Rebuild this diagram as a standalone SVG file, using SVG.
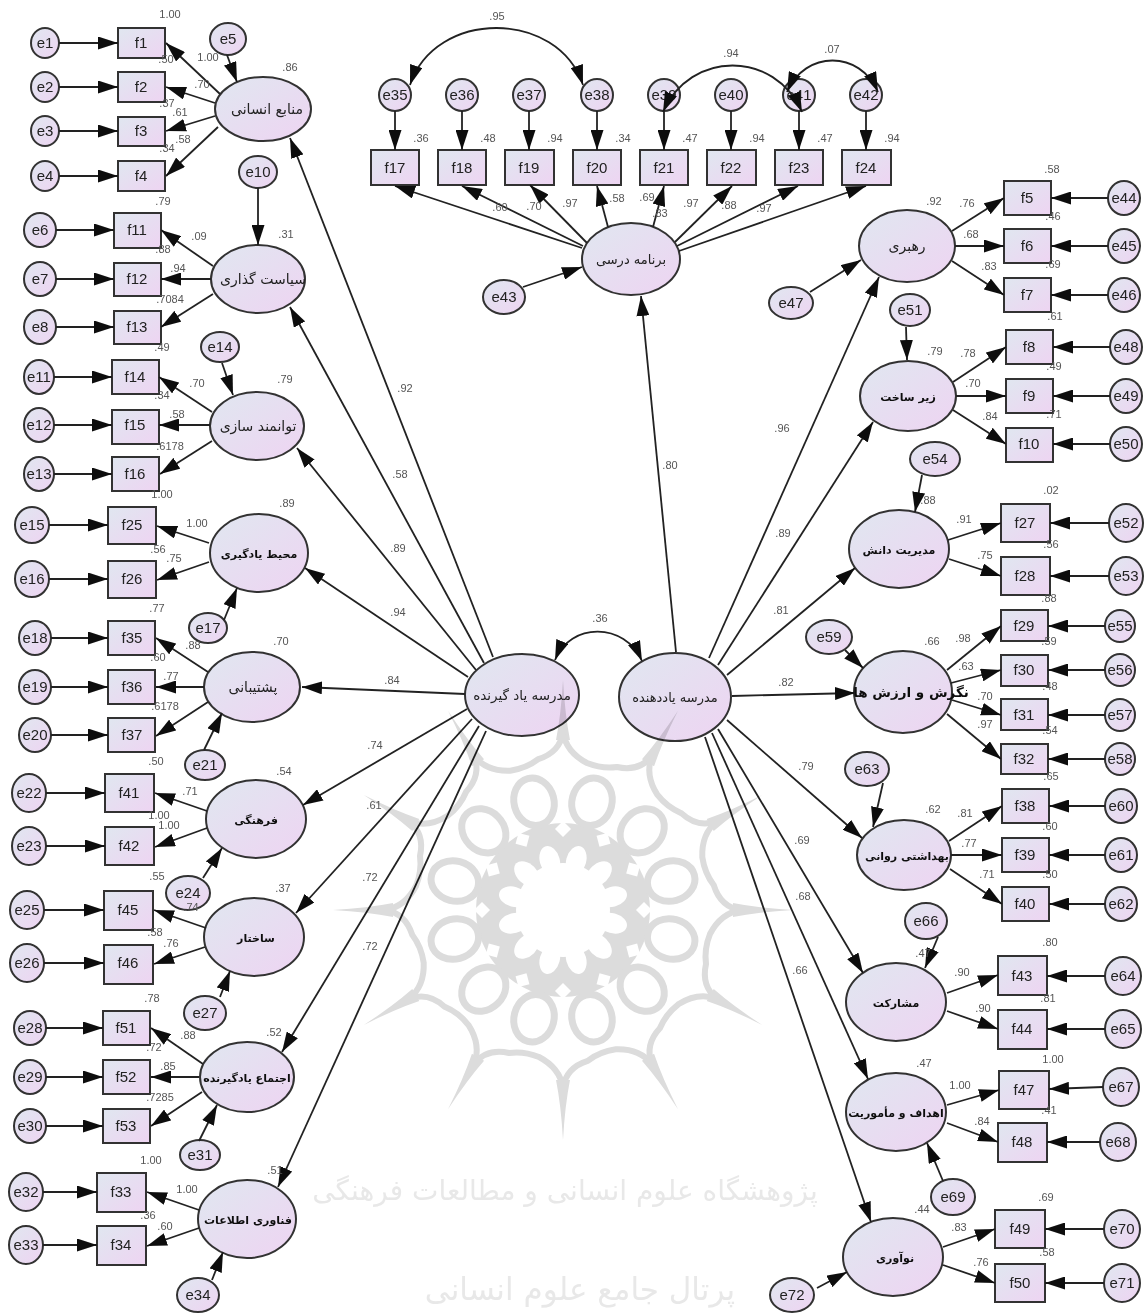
<svg xmlns="http://www.w3.org/2000/svg" width="1148" height="1316" viewBox="0 0 1148 1316">
<style>
.n{fill:url(#g);stroke:#333;stroke-width:2}
.t{font:15px "Liberation Sans",sans-serif;fill:#222;text-anchor:middle}
.p{font:12px "DejaVu Sans",sans-serif;fill:#222;text-anchor:middle}
.b{font-size:11px;font-weight:bold;fill:#111}
.m{font-size:14px}
.l{font:11px "Liberation Sans",sans-serif;fill:#555;text-anchor:middle}
#connectors path{fill:none;stroke:#222;stroke-width:1.8;marker-end:url(#a)}
#connectors path.d{marker-start:url(#a)}
.w{fill:none;stroke:#dcdcdc;stroke-width:6}
.wt{font-family:"DejaVu Sans",sans-serif;fill:#e8e8e8;text-anchor:middle}
#watermark{mix-blend-mode:multiply}
</style>
<defs>
<filter id="s" x="0" y="0" width="100%" height="100%"><feGaussianBlur stdDeviation="0.5"/></filter>
<linearGradient id="g" x1="0" y1="0" x2="1" y2="1"><stop offset="0" stop-color="#e0e7f0"/><stop offset="1" stop-color="#eed4f2"/></linearGradient>
<marker id="a" viewBox="0 0 20 13" refX="20" refY="6.5" markerUnits="userSpaceOnUse" markerWidth="20" markerHeight="13" orient="auto-start-reverse"><path d="M0,0L20,6.5L0,13z" fill="#111"/></marker>
<g id="u">
<path class="w" d="M0,-178Q3,-158 24,-147Q39,-141 54,-143Q76,-138 89,-154"/>
<path d="M0,-230Q-2,-195 -7,-170L7,-170Q2,-195 0,-230z" fill="#dcdcdc"/>
<path d="M-8,-81L0,-89L8,-81L0,-73z" fill="#fff"/>
<ellipse transform="rotate(15)" cx="0" cy="-112" rx="20" ry="24" fill="#fff" stroke="#dcdcdc" stroke-width="7"/>
<ellipse transform="rotate(15)" cx="0" cy="-51" rx="10" ry="15" fill="#fff"/>
</g>
</defs>
<g filter="url(#s)">
<rect width="1148" height="1316" fill="#fff"/>
<g id="nodes">
<g id="e1"><ellipse class="n" cx="45" cy="43" rx="14" ry="15"/><text class="t" x="45" y="48">e1</text></g>
<g id="e2"><ellipse class="n" cx="45" cy="87" rx="14" ry="15"/><text class="t" x="45" y="92">e2</text></g>
<g id="e3"><ellipse class="n" cx="45" cy="131" rx="14" ry="15"/><text class="t" x="45" y="136">e3</text></g>
<g id="e4"><ellipse class="n" cx="45" cy="176" rx="14" ry="15"/><text class="t" x="45" y="181">e4</text></g>
<g id="e5"><ellipse class="n" cx="228" cy="39" rx="18" ry="16"/><text class="t" x="228" y="44">e5</text></g>
<g id="e6"><ellipse class="n" cx="40" cy="230" rx="16" ry="17"/><text class="t" x="40" y="235">e6</text></g>
<g id="e7"><ellipse class="n" cx="40" cy="279" rx="16" ry="17"/><text class="t" x="40" y="284">e7</text></g>
<g id="e8"><ellipse class="n" cx="40" cy="327" rx="16" ry="17"/><text class="t" x="40" y="332">e8</text></g>
<g id="e10"><ellipse class="n" cx="258" cy="172" rx="19" ry="16"/><text class="t" x="258" y="177">e10</text></g>
<g id="e14"><ellipse class="n" cx="220" cy="347" rx="19" ry="15"/><text class="t" x="220" y="352">e14</text></g>
<g id="e11"><ellipse class="n" cx="39" cy="377" rx="15" ry="17"/><text class="t" x="39" y="382">e11</text></g>
<g id="e12"><ellipse class="n" cx="39" cy="425" rx="15" ry="17"/><text class="t" x="39" y="430">e12</text></g>
<g id="e13"><ellipse class="n" cx="39" cy="474" rx="15" ry="17"/><text class="t" x="39" y="479">e13</text></g>
<g id="e15"><ellipse class="n" cx="32" cy="525" rx="17" ry="18"/><text class="t" x="32" y="530">e15</text></g>
<g id="e16"><ellipse class="n" cx="32" cy="579" rx="17" ry="18"/><text class="t" x="32" y="584">e16</text></g>
<g id="e17"><ellipse class="n" cx="208" cy="628" rx="19" ry="15"/><text class="t" x="208" y="633">e17</text></g>
<g id="e18"><ellipse class="n" cx="35" cy="638" rx="16" ry="17"/><text class="t" x="35" y="643">e18</text></g>
<g id="e19"><ellipse class="n" cx="35" cy="687" rx="16" ry="17"/><text class="t" x="35" y="692">e19</text></g>
<g id="e20"><ellipse class="n" cx="35" cy="735" rx="16" ry="17"/><text class="t" x="35" y="740">e20</text></g>
<g id="e21"><ellipse class="n" cx="205" cy="765" rx="20" ry="15"/><text class="t" x="205" y="770">e21</text></g>
<g id="e22"><ellipse class="n" cx="29" cy="793" rx="17" ry="19"/><text class="t" x="29" y="798">e22</text></g>
<g id="e23"><ellipse class="n" cx="29" cy="846" rx="17" ry="19"/><text class="t" x="29" y="851">e23</text></g>
<g id="e24"><ellipse class="n" cx="188" cy="893" rx="22" ry="17"/><text class="t" x="188" y="898">e24</text></g>
<g id="e25"><ellipse class="n" cx="27" cy="910" rx="17" ry="19"/><text class="t" x="27" y="915">e25</text></g>
<g id="e26"><ellipse class="n" cx="27" cy="963" rx="17" ry="19"/><text class="t" x="27" y="968">e26</text></g>
<g id="e27"><ellipse class="n" cx="205" cy="1013" rx="21" ry="17"/><text class="t" x="205" y="1018">e27</text></g>
<g id="e28"><ellipse class="n" cx="30" cy="1028" rx="16" ry="17"/><text class="t" x="30" y="1033">e28</text></g>
<g id="e29"><ellipse class="n" cx="30" cy="1077" rx="16" ry="17"/><text class="t" x="30" y="1082">e29</text></g>
<g id="e30"><ellipse class="n" cx="30" cy="1126" rx="16" ry="17"/><text class="t" x="30" y="1131">e30</text></g>
<g id="e31"><ellipse class="n" cx="200" cy="1155" rx="20" ry="15"/><text class="t" x="200" y="1160">e31</text></g>
<g id="e32"><ellipse class="n" cx="26" cy="1192" rx="17" ry="19"/><text class="t" x="26" y="1197">e32</text></g>
<g id="e33"><ellipse class="n" cx="26" cy="1245" rx="17" ry="19"/><text class="t" x="26" y="1250">e33</text></g>
<g id="e34"><ellipse class="n" cx="198" cy="1295" rx="21" ry="17"/><text class="t" x="198" y="1300">e34</text></g>
<g id="e35"><circle class="n" cx="395" cy="95" r="16"/><text class="t" x="395" y="100">e35</text></g>
<g id="e36"><circle class="n" cx="462" cy="95" r="16"/><text class="t" x="462" y="100">e36</text></g>
<g id="e37"><circle class="n" cx="529" cy="95" r="16"/><text class="t" x="529" y="100">e37</text></g>
<g id="e38"><circle class="n" cx="597" cy="95" r="16"/><text class="t" x="597" y="100">e38</text></g>
<g id="e39"><circle class="n" cx="664" cy="95" r="16"/><text class="t" x="664" y="100">e39</text></g>
<g id="e40"><circle class="n" cx="731" cy="95" r="16"/><text class="t" x="731" y="100">e40</text></g>
<g id="e41"><circle class="n" cx="799" cy="95" r="16"/><text class="t" x="799" y="100">e41</text></g>
<g id="e42"><circle class="n" cx="866" cy="95" r="16"/><text class="t" x="866" y="100">e42</text></g>
<g id="e43"><ellipse class="n" cx="504" cy="297" rx="21" ry="17"/><text class="t" x="504" y="302">e43</text></g>
<g id="e47"><ellipse class="n" cx="791" cy="303" rx="22" ry="16"/><text class="t" x="791" y="308">e47</text></g>
<g id="e44"><ellipse class="n" cx="1124" cy="198" rx="16" ry="17"/><text class="t" x="1124" y="203">e44</text></g>
<g id="e45"><ellipse class="n" cx="1124" cy="246" rx="16" ry="17"/><text class="t" x="1124" y="251">e45</text></g>
<g id="e46"><ellipse class="n" cx="1124" cy="295" rx="16" ry="17"/><text class="t" x="1124" y="300">e46</text></g>
<g id="e48"><ellipse class="n" cx="1126" cy="347" rx="16" ry="17"/><text class="t" x="1126" y="352">e48</text></g>
<g id="e49"><ellipse class="n" cx="1126" cy="396" rx="16" ry="17"/><text class="t" x="1126" y="401">e49</text></g>
<g id="e50"><ellipse class="n" cx="1126" cy="444" rx="16" ry="17"/><text class="t" x="1126" y="449">e50</text></g>
<g id="e51"><ellipse class="n" cx="910" cy="310" rx="20" ry="16"/><text class="t" x="910" y="315">e51</text></g>
<g id="e54"><ellipse class="n" cx="935" cy="459" rx="25" ry="17"/><text class="t" x="935" y="464">e54</text></g>
<g id="e52"><ellipse class="n" cx="1126" cy="523" rx="17" ry="19"/><text class="t" x="1126" y="528">e52</text></g>
<g id="e53"><ellipse class="n" cx="1126" cy="576" rx="17" ry="19"/><text class="t" x="1126" y="581">e53</text></g>
<g id="e59"><ellipse class="n" cx="829" cy="637" rx="23" ry="17"/><text class="t" x="829" y="642">e59</text></g>
<g id="e55"><ellipse class="n" cx="1120" cy="626" rx="15" ry="16"/><text class="t" x="1120" y="631">e55</text></g>
<g id="e56"><ellipse class="n" cx="1120" cy="670" rx="15" ry="16"/><text class="t" x="1120" y="675">e56</text></g>
<g id="e57"><ellipse class="n" cx="1120" cy="715" rx="15" ry="16"/><text class="t" x="1120" y="720">e57</text></g>
<g id="e58"><ellipse class="n" cx="1120" cy="759" rx="15" ry="16"/><text class="t" x="1120" y="764">e58</text></g>
<g id="e63"><ellipse class="n" cx="867" cy="769" rx="22" ry="17"/><text class="t" x="867" y="774">e63</text></g>
<g id="e60"><ellipse class="n" cx="1121" cy="806" rx="16" ry="17"/><text class="t" x="1121" y="811">e60</text></g>
<g id="e61"><ellipse class="n" cx="1121" cy="855" rx="16" ry="17"/><text class="t" x="1121" y="860">e61</text></g>
<g id="e62"><ellipse class="n" cx="1121" cy="904" rx="16" ry="17"/><text class="t" x="1121" y="909">e62</text></g>
<g id="e66"><ellipse class="n" cx="926" cy="921" rx="21" ry="18"/><text class="t" x="926" y="926">e66</text></g>
<g id="e64"><ellipse class="n" cx="1123" cy="976" rx="18" ry="19"/><text class="t" x="1123" y="981">e64</text></g>
<g id="e65"><ellipse class="n" cx="1123" cy="1029" rx="18" ry="19"/><text class="t" x="1123" y="1034">e65</text></g>
<g id="e67"><ellipse class="n" cx="1121" cy="1087" rx="18" ry="19"/><text class="t" x="1121" y="1092">e67</text></g>
<g id="e68"><ellipse class="n" cx="1118" cy="1142" rx="18" ry="19"/><text class="t" x="1118" y="1147">e68</text></g>
<g id="e69"><ellipse class="n" cx="953" cy="1197" rx="22" ry="18"/><text class="t" x="953" y="1202">e69</text></g>
<g id="e70"><ellipse class="n" cx="1122" cy="1229" rx="18" ry="19"/><text class="t" x="1122" y="1234">e70</text></g>
<g id="e71"><ellipse class="n" cx="1122" cy="1283" rx="18" ry="19"/><text class="t" x="1122" y="1288">e71</text></g>
<g id="e72"><ellipse class="n" cx="792" cy="1295" rx="22" ry="17"/><text class="t" x="792" y="1300">e72</text></g>

<g id="f1"><rect class="n" x="118" y="28" width="47" height="30"/><text class="t" x="141" y="48">f1</text></g>
<g id="f2"><rect class="n" x="118" y="72" width="47" height="30"/><text class="t" x="141" y="92">f2</text></g>
<g id="f3"><rect class="n" x="118" y="117" width="47" height="29"/><text class="t" x="141" y="136">f3</text></g>
<g id="f4"><rect class="n" x="118" y="161" width="47" height="30"/><text class="t" x="141" y="181">f4</text></g>
<g id="f11"><rect class="n" x="114" y="213" width="47" height="35"/><text class="t" x="137" y="235">f11</text></g>
<g id="f12"><rect class="n" x="114" y="263" width="47" height="33"/><text class="t" x="137" y="284">f12</text></g>
<g id="f13"><rect class="n" x="114" y="311" width="47" height="33"/><text class="t" x="137" y="332">f13</text></g>
<g id="f14"><rect class="n" x="112" y="360" width="47" height="34"/><text class="t" x="135" y="382">f14</text></g>
<g id="f15"><rect class="n" x="112" y="410" width="47" height="34"/><text class="t" x="135" y="430">f15</text></g>
<g id="f16"><rect class="n" x="112" y="457" width="47" height="34"/><text class="t" x="135" y="479">f16</text></g>
<g id="f25"><rect class="n" x="108" y="507" width="48" height="37"/><text class="t" x="132" y="530">f25</text></g>
<g id="f26"><rect class="n" x="108" y="561" width="48" height="37"/><text class="t" x="132" y="584">f26</text></g>
<g id="f35"><rect class="n" x="108" y="621" width="47" height="34"/><text class="t" x="132" y="643">f35</text></g>
<g id="f36"><rect class="n" x="108" y="670" width="47" height="34"/><text class="t" x="132" y="692">f36</text></g>
<g id="f37"><rect class="n" x="108" y="718" width="47" height="34"/><text class="t" x="132" y="740">f37</text></g>
<g id="f41"><rect class="n" x="105" y="774" width="49" height="38"/><text class="t" x="129" y="798">f41</text></g>
<g id="f42"><rect class="n" x="105" y="827" width="49" height="38"/><text class="t" x="129" y="851">f42</text></g>
<g id="f45"><rect class="n" x="104" y="891" width="49" height="39"/><text class="t" x="128" y="915">f45</text></g>
<g id="f46"><rect class="n" x="104" y="945" width="49" height="39"/><text class="t" x="128" y="968">f46</text></g>
<g id="f51"><rect class="n" x="103" y="1011" width="47" height="34"/><text class="t" x="126" y="1033">f51</text></g>
<g id="f52"><rect class="n" x="103" y="1060" width="47" height="34"/><text class="t" x="126" y="1082">f52</text></g>
<g id="f53"><rect class="n" x="103" y="1109" width="47" height="34"/><text class="t" x="126" y="1131">f53</text></g>
<g id="f33"><rect class="n" x="97" y="1173" width="49" height="39"/><text class="t" x="121" y="1197">f33</text></g>
<g id="f34"><rect class="n" x="97" y="1226" width="49" height="39"/><text class="t" x="121" y="1250">f34</text></g>
<g id="f17"><rect class="n" x="371" y="150" width="48" height="35"/><text class="t" x="395" y="173">f17</text></g>
<g id="f18"><rect class="n" x="438" y="150" width="48" height="35"/><text class="t" x="462" y="173">f18</text></g>
<g id="f19"><rect class="n" x="505" y="150" width="49" height="35"/><text class="t" x="529" y="173">f19</text></g>
<g id="f20"><rect class="n" x="573" y="150" width="48" height="35"/><text class="t" x="597" y="173">f20</text></g>
<g id="f21"><rect class="n" x="640" y="150" width="48" height="35"/><text class="t" x="664" y="173">f21</text></g>
<g id="f22"><rect class="n" x="707" y="150" width="49" height="35"/><text class="t" x="731" y="173">f22</text></g>
<g id="f23"><rect class="n" x="775" y="150" width="48" height="35"/><text class="t" x="799" y="173">f23</text></g>
<g id="f24"><rect class="n" x="842" y="150" width="49" height="35"/><text class="t" x="866" y="173">f24</text></g>
<g id="f5"><rect class="n" x="1004" y="181" width="47" height="34"/><text class="t" x="1027" y="203">f5</text></g>
<g id="f6"><rect class="n" x="1004" y="229" width="47" height="34"/><text class="t" x="1027" y="251">f6</text></g>
<g id="f7"><rect class="n" x="1004" y="278" width="47" height="34"/><text class="t" x="1027" y="300">f7</text></g>
<g id="f8"><rect class="n" x="1006" y="330" width="47" height="34"/><text class="t" x="1029" y="352">f8</text></g>
<g id="f9"><rect class="n" x="1006" y="379" width="47" height="34"/><text class="t" x="1029" y="401">f9</text></g>
<g id="f10"><rect class="n" x="1006" y="428" width="47" height="34"/><text class="t" x="1029" y="449">f10</text></g>
<g id="f27"><rect class="n" x="1001" y="504" width="49" height="38"/><text class="t" x="1025" y="528">f27</text></g>
<g id="f28"><rect class="n" x="1001" y="557" width="49" height="38"/><text class="t" x="1025" y="581">f28</text></g>
<g id="f29"><rect class="n" x="1001" y="610" width="47" height="31"/><text class="t" x="1024" y="631">f29</text></g>
<g id="f30"><rect class="n" x="1001" y="655" width="47" height="31"/><text class="t" x="1024" y="675">f30</text></g>
<g id="f31"><rect class="n" x="1001" y="699" width="47" height="31"/><text class="t" x="1024" y="720">f31</text></g>
<g id="f32"><rect class="n" x="1001" y="744" width="47" height="30"/><text class="t" x="1024" y="764">f32</text></g>
<g id="f38"><rect class="n" x="1002" y="789" width="47" height="34"/><text class="t" x="1025" y="811">f38</text></g>
<g id="f39"><rect class="n" x="1002" y="838" width="47" height="34"/><text class="t" x="1025" y="860">f39</text></g>
<g id="f40"><rect class="n" x="1002" y="887" width="47" height="34"/><text class="t" x="1025" y="909">f40</text></g>
<g id="f43"><rect class="n" x="998" y="956" width="49" height="39"/><text class="t" x="1022" y="981">f43</text></g>
<g id="f44"><rect class="n" x="998" y="1010" width="49" height="39"/><text class="t" x="1022" y="1034">f44</text></g>
<g id="f47"><rect class="n" x="999" y="1071" width="50" height="38"/><text class="t" x="1024" y="1095">f47</text></g>
<g id="f48"><rect class="n" x="998" y="1123" width="49" height="39"/><text class="t" x="1022" y="1147">f48</text></g>
<g id="f49"><rect class="n" x="995" y="1210" width="50" height="38"/><text class="t" x="1020" y="1234">f49</text></g>
<g id="f50"><rect class="n" x="995" y="1264" width="50" height="38"/><text class="t" x="1020" y="1288">f50</text></g>

<g id="L1"><ellipse class="n" cx="263" cy="109" rx="48" ry="32"/><text class="p m" x="267" y="114">منابع انسانی</text></g>
<g id="L2"><ellipse class="n" cx="258" cy="279" rx="47" ry="34"/><text class="p m" x="263" y="284">سیاست گذاری</text></g>
<g id="L3"><ellipse class="n" cx="257" cy="426" rx="47" ry="34"/><text class="p m" x="258" y="431">توانمند سازی</text></g>
<g id="L4"><ellipse class="n" cx="259" cy="553" rx="49" ry="39"/><text class="p b" x="259" y="558">محیط یادگیری</text></g>
<g id="L5"><ellipse class="n" cx="252" cy="687" rx="48" ry="35"/><text class="p m" x="253" y="692">پشتیبانی</text></g>
<g id="L6"><ellipse class="n" cx="256" cy="819" rx="50" ry="39"/><text class="p b" x="256" y="824">فرهنگی</text></g>
<g id="L7"><ellipse class="n" cx="254" cy="937" rx="50" ry="39"/><text class="p b" x="256" y="942">ساختار</text></g>
<g id="L8"><ellipse class="n" cx="247" cy="1077" rx="47" ry="35"/><text class="p b" x="247" y="1082">اجتماع یادگیرنده</text></g>
<g id="L9"><ellipse class="n" cx="247" cy="1219" rx="49" ry="39"/><text class="p b" x="248" y="1224">فناوری اطلاعات</text></g>
<g id="C1"><ellipse class="n" cx="522" cy="695" rx="57" ry="41"/><text class="p" x="522" y="700" font-weight="bold" style="font-size:13.5px">مدرسه یاد گیرنده</text></g>
<g id="C2"><ellipse class="n" cx="675" cy="697" rx="56" ry="44"/><text class="p" x="675" y="702" font-weight="bold" style="font-size:13px">مدرسه یاددهنده</text></g>
<g id="L10"><ellipse class="n" cx="631" cy="259" rx="49" ry="36"/><text class="p" x="631" y="264" style="font-size:13px">برنامه درسی</text></g>
<g id="R1"><ellipse class="n" cx="907" cy="246" rx="48" ry="36"/><text class="p m" x="907" y="251">رهبری</text></g>
<g id="R2"><ellipse class="n" cx="908" cy="396" rx="48" ry="35"/><text class="p b" x="908" y="401">زیر ساخت</text></g>
<g id="R3"><ellipse class="n" cx="899" cy="549" rx="50" ry="39"/><text class="p b" x="899" y="554">مدیریت دانش</text></g>
<g id="R4"><ellipse class="n" cx="903" cy="692" rx="49" ry="41"/><text class="p b" x="911" y="697" style="font-size:13.5px">نگرش و ارزش ها</text></g>
<g id="R5"><ellipse class="n" cx="904" cy="855" rx="47" ry="35"/><text class="p b" x="907" y="860">بهداشتی روانی</text></g>
<g id="R6"><ellipse class="n" cx="896" cy="1002" rx="50" ry="39"/><text class="p b" x="896" y="1007">مشارکت</text></g>
<g id="R7"><ellipse class="n" cx="896" cy="1112" rx="50" ry="39"/><text class="p b" x="896" y="1117">اهداف و مأموریت</text></g>
<g id="R8"><ellipse class="n" cx="893" cy="1257" rx="50" ry="39"/><text class="p b" x="895" y="1262">نوآوری</text></g>
</g>
<g id="connectors">
<path d="M59,43H118"/><path d="M59,87H118"/><path d="M59,131H118"/><path d="M59,176H118"/>
<path d="M56,230H114"/><path d="M56,279H114"/><path d="M56,327H114"/>
<path d="M54,377H112"/><path d="M54,425H112"/><path d="M54,474H112"/>
<path d="M49,525H108"/><path d="M49,579H108"/>
<path d="M51,638H108"/><path d="M51,687H108"/><path d="M51,735H108"/>
<path d="M46,793H105"/><path d="M46,846H105"/>
<path d="M44,910H104"/><path d="M44,963H104"/>
<path d="M46,1028H103"/><path d="M46,1077H103"/><path d="M46,1126H103"/>
<path d="M43,1192H97"/><path d="M43,1245H97"/>
<path d="M1108,198H1051"/><path d="M1108,246H1051"/><path d="M1108,295H1051"/>
<path d="M1110,347H1053"/><path d="M1110,396H1053"/><path d="M1110,444H1053"/>
<path d="M1109,523H1050"/><path d="M1109,576H1050"/>
<path d="M1105,626H1048"/><path d="M1105,670H1048"/><path d="M1105,715H1048"/><path d="M1105,759H1048"/>
<path d="M1105,806H1049"/><path d="M1105,855H1049"/><path d="M1105,904H1049"/>
<path d="M1105,976H1047"/><path d="M1105,1029H1047"/>
<path d="M1103,1087L1049,1089"/><path d="M1100,1142H1047"/>
<path d="M1104,1229H1045"/><path d="M1104,1283H1045"/>
<path d="M395,111V150"/><path d="M462,111V150"/><path d="M529,111V150"/><path d="M597,111V150"/><path d="M664,111V150"/><path d="M731,111V150"/><path d="M799,111V150"/><path d="M866,111V150"/>
<path d="M220,94L166,43"/><path d="M215,103L166,87"/><path d="M215,116L166,131"/><path d="M218,127L166,176"/><path d="M227,55L237,82"/>
<path d="M213,266L161,230"/><path d="M211,279H161"/><path d="M213,294L161,327"/><path d="M258,188V245"/>
<path d="M212,412L159,377"/><path d="M210,425H159"/><path d="M212,441L160,474"/><path d="M222,363L233,395"/>
<path d="M209,543L157,526"/><path d="M209,562L157,580"/><path d="M224,620L237,588"/>
<path d="M208,672L156,638"/><path d="M204,687H156"/><path d="M208,702L156,736"/><path d="M204,750L222,713"/>
<path d="M207,811L155,793"/><path d="M207,828L155,847"/><path d="M203,878L222,848"/>
<path d="M206,928L154,910"/><path d="M205,947L154,964"/><path d="M220,997L230,971"/>
<path d="M203,1064L151,1028"/><path d="M199,1077H151"/><path d="M202,1092L151,1126"/><path d="M199,1141L217,1105"/>
<path d="M199,1210L147,1192"/><path d="M199,1228L147,1246"/><path d="M212,1280L223,1252"/>
<path d="M493,657L290,138"/><path d="M484,663L290,307"/><path d="M476,670L297,448"/><path d="M468,677L305,568"/><path d="M465,694L302,687"/><path d="M467,709L303,805"/><path d="M472,719L296,913"/><path d="M479,726L282,1052"/><path d="M486,731L278,1187"/>
<path d="M676,652L641,296"/><path d="M709,658L879,277"/><path d="M718,665L873,422"/><path d="M727,675L855,568"/><path d="M732,696L855,693"/><path d="M727,720L862,838"/><path d="M718,729L863,973"/><path d="M712,733L868,1079"/><path d="M705,737L871,1222"/>
<path d="M582,248L395,186"/><path d="M583,246L462,186"/><path d="M587,243L530,185"/><path d="M608,227L597,186"/><path d="M653,227L664,186"/><path d="M675,242L732,186"/><path d="M677,246L798,186"/><path d="M679,251L866,186"/><path d="M523,287L582,267"/><path d="M810,292L861,260"/>
<path d="M952,231L1004,198"/><path d="M955,246H1004"/><path d="M952,261L1004,295"/>
<path d="M953,382L1006,347"/><path d="M956,396H1006"/><path d="M953,410L1006,444"/><path d="M906,327L907,360"/>
<path d="M948,540L1001,523"/><path d="M949,559L1001,576"/><path d="M922,475L915,512"/>
<path d="M947,670L1001,626"/><path d="M951,683L1001,670"/><path d="M952,700L1001,715"/><path d="M947,714L1001,759"/><path d="M845,650L863,668"/>
<path d="M949,841L1002,806"/><path d="M951,855H1002"/><path d="M950,869L1002,904"/><path d="M883,783L873,827"/>
<path d="M947,993L998,975"/><path d="M947,1011L998,1029"/><path d="M938,937L925,968"/>
<path d="M947,1105L999,1090"/><path d="M947,1123L998,1142"/><path d="M943,1181L927,1143"/>
<path d="M943,1247L995,1229"/><path d="M943,1265L995,1283"/><path d="M817,1288L847,1272"/>
<path class="d" d="M410,85C435,9 558,9 583,85"/>
<path class="d" d="M663,112C690,50 775,50 802,112"/>
<path class="d" d="M787,92C805,50 860,50 878,92"/>
<path class="d" d="M555,660C570,622 625,622 642,661"/>
</g>
<g id="labels">
<text class="l" x="170" y="18">1.00</text><text class="l" x="166" y="63">.50</text><text class="l" x="208" y="61">1.00</text><text class="l" x="202" y="88">.70</text><text class="l" x="167" y="107">.37</text><text class="l" x="180" y="116">.61</text><text class="l" x="183" y="143">.58</text><text class="l" x="167" y="152">.34</text><text class="l" x="290" y="71">.86</text>
<text class="l" x="163" y="205">.79</text><text class="l" x="199" y="240">.09</text><text class="l" x="163" y="253">.88</text><text class="l" x="178" y="272">.94</text><text class="l" x="170" y="303">.7084</text><text class="l" x="286" y="238">.31</text>
<text class="l" x="162" y="351">.49</text><text class="l" x="197" y="387">.70</text><text class="l" x="285" y="383">.79</text><text class="l" x="162" y="399">.34</text><text class="l" x="177" y="418">.58</text><text class="l" x="170" y="450">.6178</text>
<text class="l" x="162" y="498">1.00</text><text class="l" x="287" y="507">.89</text><text class="l" x="197" y="527">1.00</text><text class="l" x="158" y="553">.56</text><text class="l" x="174" y="562">.75</text>
<text class="l" x="157" y="612">.77</text><text class="l" x="281" y="645">.70</text><text class="l" x="193" y="649">.88</text><text class="l" x="158" y="661">.60</text><text class="l" x="171" y="680">.77</text><text class="l" x="165" y="710">.6178</text>
<text class="l" x="156" y="765">.50</text><text class="l" x="284" y="775">.54</text><text class="l" x="190" y="795">.71</text><text class="l" x="159" y="819">1.00</text><text class="l" x="169" y="829">1.00</text>
<text class="l" x="157" y="880">.55</text><text class="l" x="283" y="892">.37</text><text class="l" x="191" y="911">.74</text><text class="l" x="155" y="936">.58</text><text class="l" x="171" y="947">.76</text>
<text class="l" x="152" y="1002">.78</text><text class="l" x="274" y="1036">.52</text><text class="l" x="188" y="1039">.88</text><text class="l" x="154" y="1051">.72</text><text class="l" x="168" y="1070">.85</text><text class="l" x="160" y="1101">.7285</text>
<text class="l" x="151" y="1164">1.00</text><text class="l" x="187" y="1193">1.00</text><text class="l" x="275" y="1174">.51</text><text class="l" x="148" y="1219">.36</text><text class="l" x="165" y="1230">.60</text>
<text class="l" x="497" y="20">.95</text><text class="l" x="731" y="57">.94</text><text class="l" x="832" y="53">.07</text>
<text class="l" x="421" y="142">.36</text><text class="l" x="488" y="142">.48</text><text class="l" x="555" y="142">.94</text><text class="l" x="623" y="142">.34</text><text class="l" x="690" y="142">.47</text><text class="l" x="757" y="142">.94</text><text class="l" x="825" y="142">.47</text><text class="l" x="892" y="142">.94</text>
<text class="l" x="500" y="211">.60</text><text class="l" x="534" y="210">.70</text><text class="l" x="570" y="207">.97</text><text class="l" x="617" y="202">.58</text><text class="l" x="647" y="201">.69</text><text class="l" x="660" y="217">.83</text><text class="l" x="691" y="207">.97</text><text class="l" x="729" y="209">.88</text><text class="l" x="764" y="212">.97</text>
<text class="l" x="934" y="205">.92</text><text class="l" x="967" y="207">.76</text><text class="l" x="1052" y="173">.58</text><text class="l" x="971" y="238">.68</text><text class="l" x="1053" y="220">.46</text><text class="l" x="989" y="270">.83</text><text class="l" x="1053" y="268">.69</text><text class="l" x="1055" y="320">.61</text>
<text class="l" x="935" y="355">.79</text><text class="l" x="968" y="357">.78</text><text class="l" x="973" y="387">.70</text><text class="l" x="1054" y="370">.49</text><text class="l" x="990" y="420">.84</text><text class="l" x="1054" y="418">.71</text>
<text class="l" x="928" y="504">.88</text><text class="l" x="1051" y="494">.02</text><text class="l" x="964" y="523">.91</text><text class="l" x="1051" y="548">.56</text><text class="l" x="985" y="559">.75</text>
<text class="l" x="1049" y="602">.88</text><text class="l" x="932" y="645">.66</text><text class="l" x="963" y="642">.98</text><text class="l" x="1049" y="645">.59</text><text class="l" x="966" y="670">.63</text><text class="l" x="1050" y="690">.48</text><text class="l" x="985" y="700">.70</text><text class="l" x="985" y="728">.97</text><text class="l" x="1050" y="734">.54</text>
<text class="l" x="806" y="770">.79</text><text class="l" x="1051" y="780">.65</text><text class="l" x="933" y="813">.62</text><text class="l" x="965" y="817">.81</text><text class="l" x="1050" y="830">.60</text><text class="l" x="969" y="847">.77</text><text class="l" x="987" y="878">.71</text><text class="l" x="1050" y="878">.50</text>
<text class="l" x="802" y="844">.69</text><text class="l" x="803" y="900">.68</text><text class="l" x="1050" y="946">.80</text><text class="l" x="923" y="957">.47</text>
<text class="l" x="800" y="974">.66</text><text class="l" x="962" y="976">.90</text><text class="l" x="1048" y="1002">.81</text><text class="l" x="983" y="1012">.90</text><text class="l" x="1053" y="1063">1.00</text><text class="l" x="924" y="1067">.47</text><text class="l" x="960" y="1089">1.00</text><text class="l" x="1049" y="1114">.41</text><text class="l" x="982" y="1125">.84</text>
<text class="l" x="922" y="1213">.44</text><text class="l" x="1046" y="1201">.69</text><text class="l" x="959" y="1231">.83</text><text class="l" x="1047" y="1256">.58</text><text class="l" x="981" y="1266">.76</text>
<text class="l" x="600" y="622">.36</text><text class="l" x="670" y="469">.80</text><text class="l" x="405" y="392">.92</text><text class="l" x="400" y="478">.58</text><text class="l" x="398" y="552">.89</text><text class="l" x="398" y="616">.94</text><text class="l" x="392" y="684">.84</text><text class="l" x="375" y="749">.74</text><text class="l" x="374" y="809">.61</text><text class="l" x="370" y="881">.72</text><text class="l" x="370" y="950">.72</text>
<text class="l" x="782" y="432">.96</text><text class="l" x="783" y="537">.89</text><text class="l" x="781" y="614">.81</text><text class="l" x="786" y="686">.82</text>
</g>
<g id="watermark">
<circle cx="563" cy="910" r="87" fill="#dcdcdc"/>
<circle cx="563" cy="910" r="47" fill="#fff"/>
<g transform="translate(563,910)">
<use href="#u"/><use href="#u" transform="rotate(30)"/><use href="#u" transform="rotate(60)"/><use href="#u" transform="rotate(90)"/><use href="#u" transform="rotate(120)"/><use href="#u" transform="rotate(150)"/><use href="#u" transform="rotate(180)"/><use href="#u" transform="rotate(210)"/><use href="#u" transform="rotate(240)"/><use href="#u" transform="rotate(270)"/><use href="#u" transform="rotate(300)"/><use href="#u" transform="rotate(330)"/>
</g>
<text class="wt" x="565" y="1200" font-size="28">پژوهشگاه علوم انسانی و مطالعات فرهنگی</text>
<text class="wt" x="580" y="1300" font-size="31">پرتال جامع علوم انسانی</text>
</g>
</g>
</svg>
